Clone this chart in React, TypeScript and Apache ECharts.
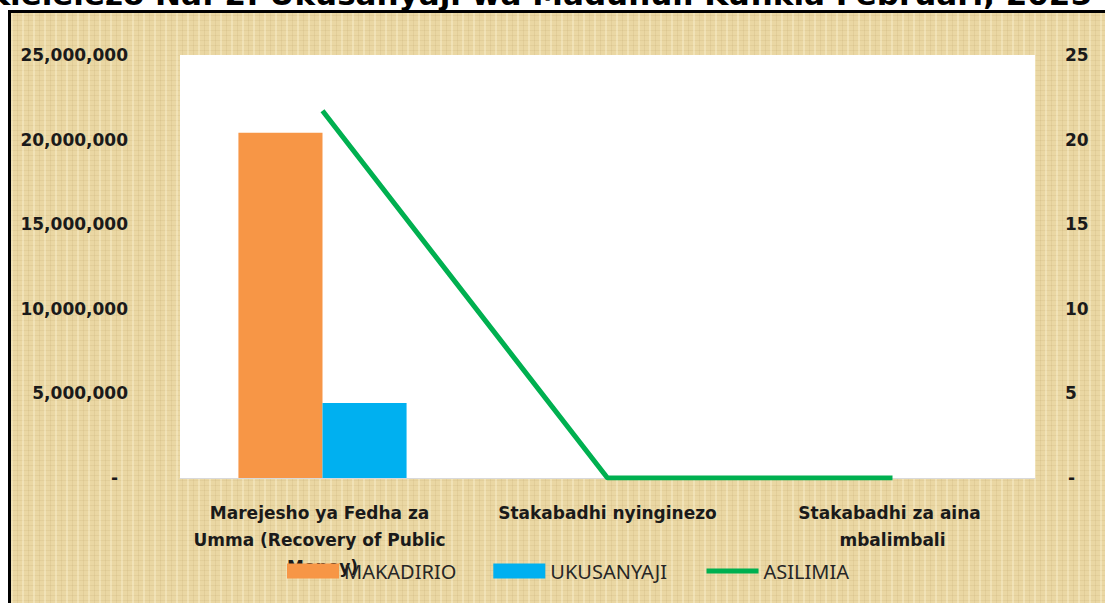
import React, { useEffect, useRef } from "react";
import * as echarts from "echarts";

const TITLE = "Kielelezo Na. 2: Ukusanyaji wa Maduhuli Kufikia Februari, 2025";
const categories = [
  "Marejesho ya Fedha za Umma (Recovery of Public Money)",
  "Stakabadhi nyinginezo",
  "Stakabadhi za aina mbalimbali",
];
const makadirio = [20400000, 0, 0];
const ukusanyaji = [4430000, 0, 0];
const asilimia = [21.7, 0, 0];
const leftAxis = { min: 0, max: 25000000, interval: 5000000 };
const rightAxis = { min: 0, max: 25, interval: 5 };

const labelBase = {
  fontFamily: "DejaVu Sans",
  fontWeight: "bold" as const,
  fontSize: 17,
  color: "#1a1a1a",
};

export default function App() {
  const ref = useRef<HTMLDivElement>(null);
  useEffect(() => {
    if (!ref.current) return;
    const chart = echarts.init(ref.current, undefined, { renderer: "svg" });
    chart.setOption({
      animation: false,
      backgroundColor: "transparent",
      graphic: [
        {
          type: "text",
          x: 1092,
          y: 9,
          z: 100,
          style: {
            text: TITLE,
            font: 'bold 31px "DejaVu Sans"',
            fill: "#000",
            align: "right",
            verticalAlign: "bottom",
          },
        },
      ],
      grid: {
        left: 180,
        right: 70,
        top: 55,
        bottom: 125,
        show: true,
        backgroundColor: "#ffffff",
        borderWidth: 0,
      },
      legend: {
        left: 287,
        top: 561,
        padding: 0,
        itemWidth: 52,
        itemHeight: 15,
        itemGap: 37,
        textStyle: { fontFamily: "Noto Sans", fontSize: 20, color: "#262626" },
        data: [
          { name: "MAKADIRIO", icon: "rect" },
          { name: "UKUSANYAJI", icon: "rect" },
          {
            name: "ASILIMIA",
            itemStyle: { opacity: 0 },
            lineStyle: { width: 5, color: "#00B050" },
          },
        ],
      },
      xAxis: {
        type: "category",
        data: categories,
        axisLine: { lineStyle: { color: "#d9d9d9", width: 1 } },
        axisTick: { show: false },
        axisLabel: {
          ...labelBase,
          interval: 0,
          margin: 21,
          width: 275,
          overflow: "break",
          lineHeight: 27,
        },
      },
      yAxis: [
        {
          type: "value",
          ...leftAxis,
          splitLine: { show: false },
          axisLine: { show: false },
          axisTick: { show: false },
          axisLabel: {
            ...labelBase,
            margin: 52,
            formatter: (v: number) => (v === 0 ? "{z|-}" : v.toLocaleString("en-US")),
            rich: { z: { ...labelBase, padding: [0, 10, 0, 0] } },
          },
        },
        {
          type: "value",
          position: "right",
          ...rightAxis,
          splitLine: { show: false },
          axisLine: { show: false },
          axisTick: { show: false },
          axisLabel: {
            ...labelBase,
            margin: 30,
            formatter: (v: number) => (v === 0 ? "{z|-}" : String(v)),
            rich: { z: { ...labelBase, padding: [0, 0, 0, 3] } },
          },
        },
      ],
      series: [
        {
          name: "MAKADIRIO",
          type: "bar",
          data: makadirio,
          barGap: "0%",
          barCategoryGap: "41%",
          itemStyle: { color: "#F79646" },
        },
        {
          name: "UKUSANYAJI",
          type: "bar",
          data: ukusanyaji,
          itemStyle: { color: "#00B0F0" },
        },
        {
          name: "ASILIMIA",
          type: "line",
          yAxisIndex: 1,
          data: asilimia,
          symbol: "none",
          showSymbol: false,
          z: 5,
          lineStyle: { color: "#00B050", width: 5 },
          itemStyle: { color: "#00B050" },
        },
      ],
    });
    return () => chart.dispose();
  }, []);

  const parchment: React.CSSProperties = {
    position: "absolute",
    left: 8,
    top: 10,
    width: 1105,
    height: 603,
    borderLeft: "3px solid #000",
    borderTop: "3px solid #000",
    backgroundColor: "#EAD7A3",
    backgroundImage:
      "repeating-linear-gradient(90deg, rgba(255,248,220,0.35) 0px, rgba(255,248,220,0.35) 2px, transparent 2px, transparent 6px, rgba(170,140,80,0.12) 6px, rgba(170,140,80,0.12) 7px, transparent 7px, transparent 11px)," +
      "repeating-linear-gradient(0deg, rgba(160,130,70,0.10) 0px, rgba(160,130,70,0.10) 1px, transparent 1px, transparent 5px)",
  };

  return (
    <div style={{ position: "fixed", left: 0, top: 0, width: 1105, height: 603, overflow: "hidden", background: "#fff" }}>
      <div style={parchment} />
      <div ref={ref} style={{ position: "absolute", left: 0, top: 0, width: 1105, height: 603 }} />
    </div>
  );
}
